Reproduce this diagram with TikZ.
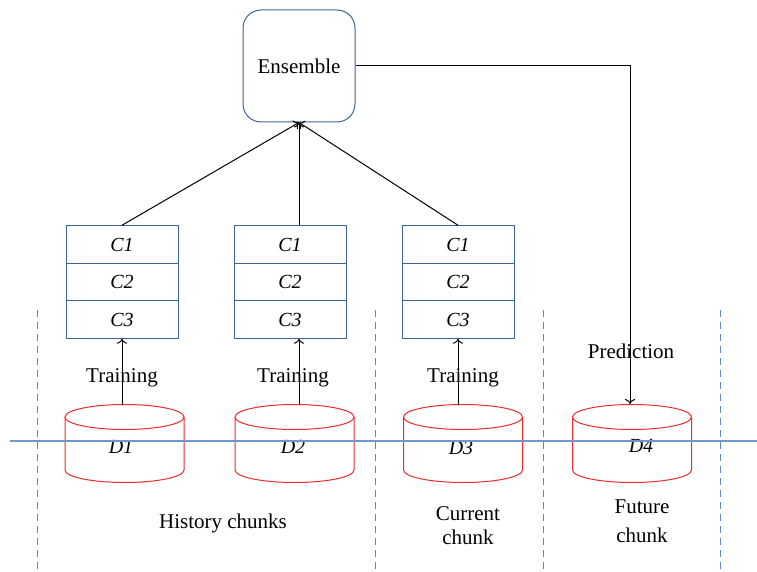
\documentclass[tikz,border=0pt]{standalone}
\usepackage{fontspec}
\setmainfont{Liberation Serif}
\definecolor{boxblue}{HTML}{3F6494}
\definecolor{dashblue}{HTML}{5F86C0}
\definecolor{lineblue}{HTML}{7096CC}
\definecolor{cylred}{HTML}{EE2B2B}
\usetikzlibrary{arrows.meta}
\tikzset{
  cell/.style={draw=boxblue, line width=1pt, minimum width=112pt, minimum height=37.5pt, inner sep=0pt, font=\itshape\fontsize{20}{23}\selectfont},
  cyl/.style={draw=cylred, line width=1pt},
  sep/.style={draw=dashblue, line width=1pt, dash pattern=on 7pt off 5pt},
  conn/.style={draw=black, line width=1pt, -{To[length=5pt,width=10pt]}},
  lbl/.style={font=\fontsize{21}{24}\selectfont, inner sep=0pt, align=center},
  dlbl/.style={font=\itshape\fontsize{20}{23}\selectfont, inner sep=0pt}
}
\begin{document}
\begin{tikzpicture}[x=1pt,y=-1pt]
\useasboundingbox (0,0) rectangle (757,572);

% separators
\foreach \xx in {37,375,543,720}
  \draw[sep] (\xx,310) -- (\xx,572);

% Ensemble
\node[draw=boxblue, line width=1pt, rounded corners=18pt, minimum width=112pt, minimum height=112pt, lbl] (ens) at (299,66) {Ensemble};

% classifier stacks
\foreach \n/\xx in {1/122,2/290,3/458}{
  \node[cell] (s\n c1) at (\xx,244.5) {C1};
  \node[cell] (s\n c2) at (\xx,282) {C2};
  \node[cell] (s\n c3) at (\xx,319.5) {C3};
}

% cylinders
\foreach \n/\cx in {1/124.5,2/294.5,3/463,4/632}{
  \draw[cyl] (\cx,417) ellipse [x radius=59.5pt, y radius=12.5pt];
  \draw[cyl] (\cx-59.5,417) -- (\cx-59.5,470) arc[start angle=180, end angle=360, x radius=59.5pt, y radius=12.5pt] -- (\cx+59.5,417);
}
\node[dlbl] (d1) at (121,447) {D1};
\node[dlbl] (d2) at (293,447) {D2};
\node[dlbl] (d3) at (461,448) {D3};
\node[dlbl] (d4) at (641,446) {D4};

% horizontal line
\draw[draw=lineblue, line width=1.4pt] (10,441) -- (757,441);

% cylinder top points
\coordinate (t1) at (122,404.5);
\coordinate (t2) at (299,404.5);
\coordinate (t3) at (458,404.5);
\coordinate (t4) at (630,404);

% training arrows
\draw[conn] (t1) -- (s1c3.south);
\draw[conn] (t2) -- (t2 |- s2c3.south);
\draw[conn] (t3) -- (s3c3.south);
\node[lbl] (tr1) at (122,378) {Training};
\node[lbl] (tr2) at (293,378) {Training};
\node[lbl] (tr3) at (463,378) {Training};

% arrows to ensemble
\coordinate (s2top) at (ens.south |- s2c1.north);
\draw[conn] (s1c1.north) -- (ens.south);
\draw[conn] (s2top) -- (ens.south);
\draw[conn] (s3c1.north) -- (ens.south);

% prediction
\draw[conn] (ens.east) -| (t4);
\node[lbl] (pred) at (631,351) {Prediction};

% chunk labels
\node[lbl] (hist) at (223,523) {History chunks};
\node[lbl] (cur) at (468,526) {Current\\chunk};
\node[lbl] (fut) at (642,521) {Future\\[5pt]chunk};
\end{tikzpicture}
\end{document}
